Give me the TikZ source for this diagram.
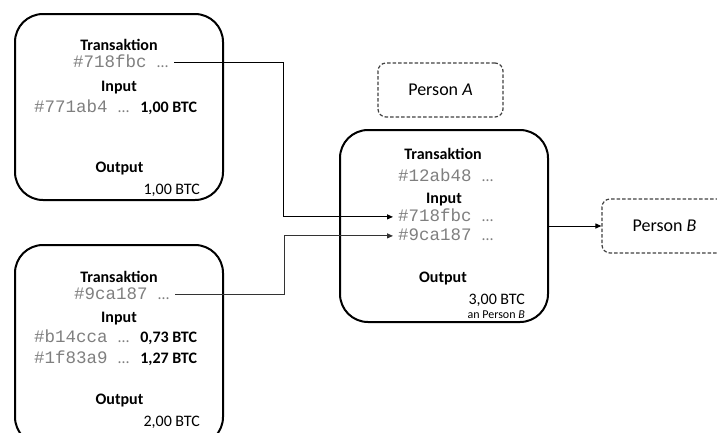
\documentclass[tikz,border=0pt]{standalone}
\usepackage{fontspec}
\setmainfont{Carlito}
\setsansfont{Carlito}
\newfontfamily\codefont{Liberation Mono}
\usetikzlibrary{arrows.meta}
\definecolor{hashgray}{HTML}{7F7F7F}
\definecolor{dashgray}{HTML}{404040}

% transaction hash in grey monospace, followed by an ellipsis
\newcommand{\hashid}[1]{{\color{hashgray}\codefont\fontsize{17.5}{19}\selectfont #1 \rmfamily\fontsize{16}{19}\selectfont …}}
% input amount next to a hash
\newcommand{\amount}[1]{\hspace{11pt}\textbf{#1}}

\tikzset{
  txbox/.style={draw, line width=2pt, rounded corners=28pt, minimum width=208pt},
  person/.style={draw=dashgray, dash pattern=on 3.5pt off 2pt, line width=1.2pt,
    rounded corners=8pt, minimum width=125pt, minimum height=54pt,
    font=\fontsize{18}{21}\selectfont},
  lbl/.style={inner sep=0pt, font=\fontsize{16}{19}\selectfont, anchor=mid, yshift=-2.5pt},
  hash/.style={lbl, anchor=mid west, text height=10pt, text depth=0pt},
  head/.style={lbl, font=\fontsize{16}{19}\selectfont\bfseries, text depth=0pt},
  small/.style={inner sep=0pt, font=\fontsize{12}{14}\selectfont, anchor=mid east, yshift=-2pt},
  conn/.style={line width=1pt, -{Triangle[length=6pt,width=5pt]}},
}

\begin{document}
\begin{tikzpicture}[x=1pt, y=-1pt]
\useasboundingbox (0,0) rectangle (717,432);

% transaction boxes
\node[txbox, minimum height=186pt] (txA) at (119,107) {};
\node[txbox, minimum height=200pt] (txB) at (119,345) {};
\node[txbox, minimum height=192pt] (txC) at (444,226) {};

% persons
\node[person] (pA) at (440.5,90) {Person \textit{A}};
\node[person] (pB) at (664.5,226) {Person \textit{B}};

% first earlier transaction
\node[head] (tA) at (119,46) {Transaktion};
\node[hash] (hA) at (73,63) {\hashid{\#718fbc}};
\node[head] (iA) at (119,87) {Input};
\node[hash] (rA) at (34,108) {\hashid{\#771ab4}\amount{1,00 BTC}};
\node[head] (oA) at (119.5,168) {Output};
\node[lbl, anchor=mid east] (vA) at (200,190) {1,00 BTC};

% second earlier transaction
\node[head] (tB) at (119,277.5) {Transaktion};
\node[hash] (hB) at (74,295) {\hashid{\#9ca187}};
\node[head] (iB) at (119,318) {Input};
\node[hash] (rB1) at (34,338) {\hashid{\#b14cca}\amount{0,73 BTC}};
\node[hash] (rB2) at (34,359) {\hashid{\#1f83a9}\amount{1,27 BTC}};
\node[head] (oB) at (119.5,400) {Output};
\node[lbl, anchor=mid east] (vB) at (200,422) {2,00 BTC};

% new transaction
\node[head] (tC) at (443,155) {Transaktion};
\node[hash] (hC) at (398,177) {\hashid{\#12ab48}};
\node[head] (iC) at (444,199) {Input};
\node[hash] (inC1) at (398,217) {\hashid{\#718fbc}};
\node[hash] (inC2) at (398,236) {\hashid{\#9ca187}};
\node[head] (oC) at (443,278) {Output};
\node[lbl, anchor=mid east] (vC) at (525,300) {3,00 BTC};
\node[small] (toB) at (525,314) {an Person \textit{B}};

% bend points of the connectors
\coordinate (bend1) at (283,0);
\coordinate (bend2) at (284,0);

% connectors
\draw[conn] ([xshift=6pt]hA.east) -| (bend1 |- inC1.west) -- ([xshift=-5pt]inC1.west);
\draw[conn, black!80] ([xshift=6pt]hB.east) -| (bend2 |- inC2.west) -- ([xshift=-5pt]inC2.west);
\draw[conn] (txC.east) -- (txC.east -| pB.west);
\end{tikzpicture}
\end{document}
